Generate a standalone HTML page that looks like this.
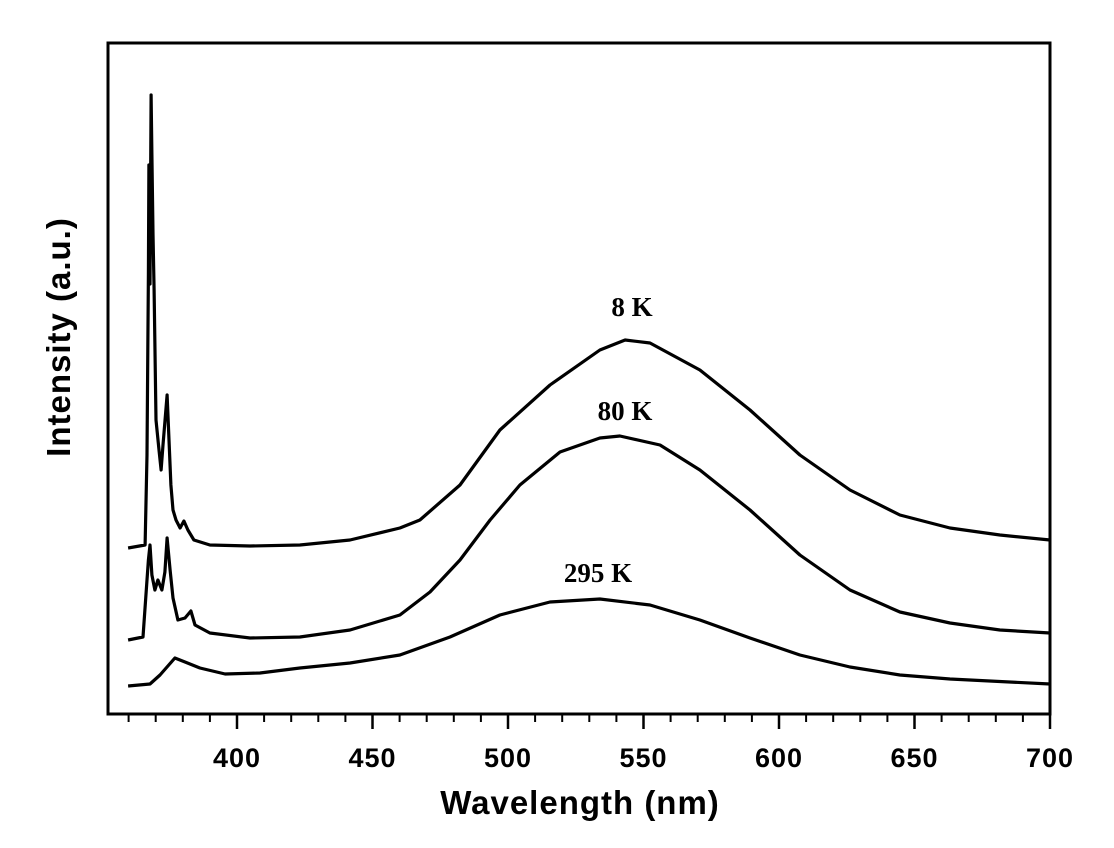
<!DOCTYPE html>
<html><head><meta charset="utf-8"><style>
body{margin:0;background:#fff;}
svg{display:block;}
</style></head><body>
<svg id="chart" width="1114" height="848" xmlns="http://www.w3.org/2000/svg">
<rect x="108" y="43" width="942" height="671" fill="none" stroke="#000" stroke-width="3"/>
<g id="ticks"></g>
<g id="series"></g>
<text x="632" y="316" font-family="Liberation Serif, serif" font-weight="bold" font-size="27" text-anchor="middle">8 K</text>
<text x="625" y="420" font-family="Liberation Serif, serif" font-weight="bold" font-size="27" text-anchor="middle">80 K</text>
<text x="598" y="582" font-family="Liberation Serif, serif" font-weight="bold" font-size="27" text-anchor="middle">295 K</text>
<text x="580" y="814" font-family="Liberation Sans, sans-serif" font-weight="bold" font-size="33" letter-spacing="1" text-anchor="middle">Wavelength (nm)</text>
<text transform="translate(70,337) rotate(-90)" font-family="Liberation Sans, sans-serif" font-weight="bold" font-size="33" letter-spacing="1" text-anchor="middle">Intensity (a.u.)</text>
</svg>
<script>
const xTicks=[400,450,500,550,600,650,700];
const xMinor=[360,370,380,390,410,420,430,440,460,470,480,490,510,520,530,540,560,570,580,590,610,620,630,640,660,670,680,690];
const wl8=[359.8,366.1,366.8,367.3,367.5,367.9,368.3,368.6,369.0,369.4,370.1,371.2,372.0,372.7,374.2,374.9,375.6,376.4,377.5,379.0,380.4,381.9,384.1,390.0,404.8,423.2,441.7,460.1,467.5,482.3,497.0,515.5,533.9,543.2,552.4,570.8,589.3,607.7,626.2,644.6,663.1,681.5,700];
const int8=[166,169,259,440,549,430,619,559,480,424,294,264,244,269,319,274,229,204,194,186,193,184,174,169,168,169,174,186,194,229,284,329,364,374,371,344,304,259,224,199,186,179,174];
const wl80=[359.8,365.3,367.3,367.9,368.6,369.7,370.8,372.3,373.4,374.2,375.3,376.4,378.2,380.8,383.0,384.5,390.0,404.8,423.2,441.7,460.1,471.2,482.3,493.4,504.4,519.2,533.9,541.3,556.1,570.8,589.3,607.7,626.2,644.6,663.1,681.5,700];
const int80=[74,77,154,169,139,124,134,124,142,176,144,116,94,96,103,89,81,76,77,84,99,122,154,194,229,262,276,278,269,244,204,159,124,102,91,84,81];
const wl295=[359.8,367.9,371.6,377.1,380.8,386.3,395.6,408.5,423.2,441.7,460.1,478.6,497.0,515.5,533.9,552.4,570.8,589.3,607.7,626.2,644.6,663.1,700];
const int295=[28,30,39,56,52,46,40,41,46,51,59,77,99,112,115,109,94,76,59,47,39,35,30];
const svg=document.getElementById('chart');
const NS='http://www.w3.org/2000/svg';
const X=v=>237+(v-400)*2.71;
const Y=v=>714-v;
const tg=document.getElementById('ticks');
xTicks.forEach(t=>{
  const l=document.createElementNS(NS,'line');
  
  
  l.setAttribute('x1',X(t));l.setAttribute('x2',X(t));l.setAttribute('y1',714);l.setAttribute('y2',729);
  l.setAttribute('stroke','#000');l.setAttribute('stroke-width','2.5');tg.appendChild(l);
  const tx=document.createElementNS(NS,'text');
  
  
  tx.setAttribute('x',X(t));tx.setAttribute('y',767);tx.setAttribute('text-anchor','middle');
  tx.setAttribute('font-family','Liberation Sans, sans-serif');tx.setAttribute('font-weight','bold');tx.setAttribute('font-size','27');tx.setAttribute('letter-spacing','1');
  tx.textContent=t;tg.appendChild(tx);
});
xMinor.forEach(t=>{
  const l=document.createElementNS(NS,'line');
  
  
  l.setAttribute('x1',X(t));l.setAttribute('x2',X(t));l.setAttribute('y1',714);l.setAttribute('y2',722);
  l.setAttribute('stroke','#000');l.setAttribute('stroke-width','2');tg.appendChild(l);
});
const sg=document.getElementById('series');
function draw(wl,iv,name){
  const p=document.createElementNS(NS,'path');
  
  
  p.setAttribute('d',wl.map((w,i)=>(i?'L':'M')+X(w).toFixed(1)+','+Y(iv[i]).toFixed(1)).join(''));
  p.setAttribute('fill','none');p.setAttribute('stroke','#000');p.setAttribute('stroke-width','3.2');p.setAttribute('stroke-linejoin','round');
  sg.appendChild(p);
}
draw(wl8,int8,'series-8k');
draw(wl80,int80,'series-80k');
draw(wl295,int295,'series-295k');
</script>
</body></html>
